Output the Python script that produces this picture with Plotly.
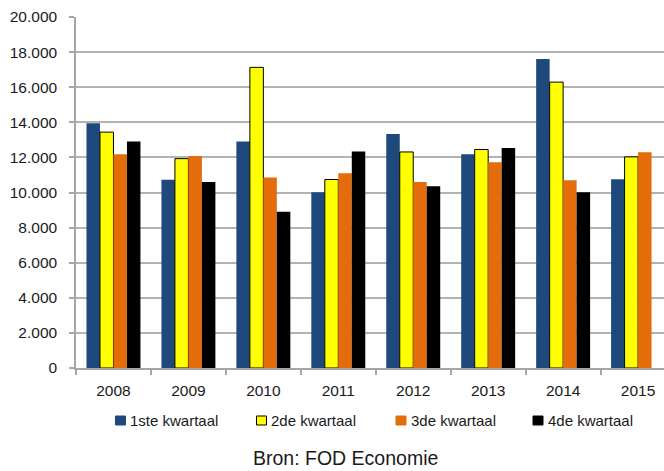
import plotly.graph_objects as go

# Quarterly figures per year (FOD Economie)
jaren = ["2008", "2009", "2010", "2011", "2012", "2013", "2014", "2015"]
kwartaal_1 = [13950, 10720, 12900, 10010, 13330, 12180, 17600, 10750]
kwartaal_2 = [13440, 11930, 17130, 10740, 12310, 12450, 16290, 12030]
kwartaal_3 = [12180, 12080, 10850, 11100, 10600, 11720, 10700, 12300]
kwartaal_4 = [12900, 10600, 8900, 12330, 10350, 12540, 10010, None]

reeks_namen = ["1ste kwartaal", "2de kwartaal", "3de kwartaal", "4de kwartaal"]
reeks_kleuren = ["#1F497D", "#FFFF00", "#E46C0A", "#000000"]
reeks_randen = ["#1F497D", "#000000", "#E46C0A", "#000000"]
reeks_randbreedte = [0, 1, 0, 0]

y_ticks = [0, 2000, 4000, 6000, 8000, 10000, 12000, 14000, 16000, 18000, 20000]
y_tick_labels = ["0", "2.000", "4.000", "6.000", "8.000", "10.000", "12.000",
                 "14.000", "16.000", "18.000", "20.000"]

W, H = 664, 471
M_L, M_R, M_T, M_B = 76, 0, 17, 103
PLOT_W = W - M_L - M_R
PLOT_H = H - M_T - M_B

FONT = "Liberation Sans, Arial, sans-serif"


def px_to_paper_x(px):
    return (px - M_L) / PLOT_W


def px_to_paper_y(py):
    return (H - M_B - py) / PLOT_H


fig = go.Figure()
for naam, waarden, kleur, rand, rb in zip(
        reeks_namen, [kwartaal_1, kwartaal_2, kwartaal_3, kwartaal_4],
        reeks_kleuren, reeks_randen, reeks_randbreedte):
    fig.add_trace(go.Bar(
        x=jaren, y=waarden, name=naam, showlegend=False,
        marker=dict(color=kleur, line=dict(color=rand, width=rb)),
    ))

font_kleur = "#1a1a1a"

# Legend row below the axis: coloured key box followed by its label
legend_links = [115.5, 256.5, 396, 533]
legend_midden_y = 420.5
shapes = []
annotations = []
for naam, kleur, rand, links in zip(reeks_namen, reeks_kleuren, reeks_randen, legend_links):
    shapes.append(dict(
        type="rect", xref="paper", yref="paper",
        x0=px_to_paper_x(links), x1=px_to_paper_x(links + 10),
        y0=px_to_paper_y(legend_midden_y + 4.5), y1=px_to_paper_y(legend_midden_y - 4.5),
        fillcolor=kleur, line=dict(color=rand if rand == "#000000" else kleur, width=1),
    ))
    annotations.append(dict(
        text=naam, xref="paper", yref="paper",
        x=px_to_paper_x(links + 12.5), y=px_to_paper_y(legend_midden_y),
        xanchor="left", yanchor="middle", showarrow=False,
        font=dict(family=FONT, size=15, color=font_kleur),
    ))

annotations.append(dict(
    text="Bron: FOD Economie", xref="paper", yref="paper",
    x=px_to_paper_x(345.5), y=px_to_paper_y(458), xanchor="center", yanchor="middle",
    showarrow=False, font=dict(family=FONT, size=19.5, color=font_kleur),
))

fig.update_layout(
    width=W, height=H,
    margin=dict(l=M_L, r=M_R, t=M_T, b=M_B),
    paper_bgcolor="white", plot_bgcolor="white",
    barmode="group", bargap=0.28, bargroupgap=0,
    font=dict(family=FONT, size=15.5, color=font_kleur),
    showlegend=False,
    shapes=shapes,
    annotations=annotations,
)

fig.update_xaxes(
    type="category", range=[-0.5, 7.346],
    showline=True, linecolor="#a6a6a6", linewidth=1.5,
    ticks="outside", tickson="boundaries", ticklen=5, tickcolor="#a6a6a6",
    tickwidth=1.5, showgrid=False, ticklabelstandoff=8,
)
fig.update_yaxes(
    range=[0, 20000], tickvals=y_ticks, ticktext=y_tick_labels,
    showline=True, linecolor="#a6a6a6", linewidth=1.5,
    ticks="outside", ticklen=5, tickcolor="#a6a6a6", tickwidth=1.5,
    showgrid=True, gridcolor="#b3b3b3", gridwidth=1.5,
    zeroline=False, ticklabelstandoff=9,
)

fig.write_html("out.html")
